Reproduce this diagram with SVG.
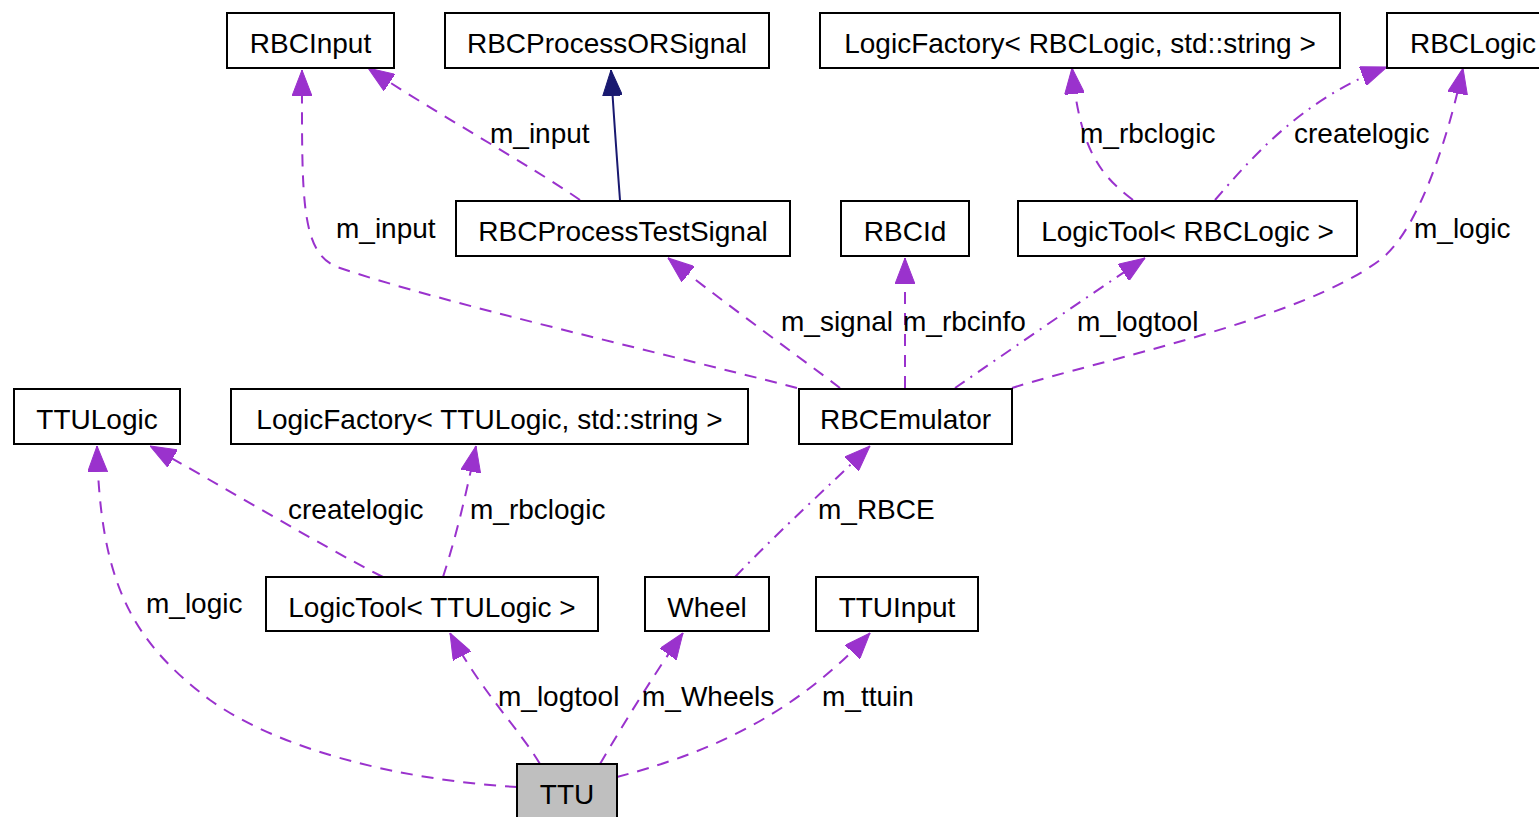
<svg xmlns="http://www.w3.org/2000/svg" width="1539" height="817" viewBox="0 0 1539 817">
<style>
.box{fill:#fff;stroke:#000;stroke-width:2}
.sel{fill:#bfbfbf;stroke:#000;stroke-width:2}
.t{font-family:"Liberation Sans",Arial,sans-serif;font-size:28px;fill:#000;text-anchor:middle}
.l{font-family:"Liberation Sans",Arial,sans-serif;font-size:28px;fill:#000}
.e{fill:none;stroke:#9a32cd;stroke-width:2;stroke-dasharray:12,9;marker-end:url(#ap)}
.ed{fill:none;stroke:#9a32cd;stroke-width:2;stroke-dasharray:12,7,2,7;marker-end:url(#ap)}
.inh{fill:none;stroke:#191970;stroke-width:2;marker-end:url(#an)}
</style>
<defs>
<marker id="ap" markerUnits="userSpaceOnUse" viewBox="0 0 26 20" refX="26" refY="10" markerWidth="26" markerHeight="20" orient="auto"><path d="M0,0 L26,10 L0,20 z" fill="#9a32cd" stroke="#9a32cd"/></marker>
<marker id="an" markerUnits="userSpaceOnUse" viewBox="0 0 26 20" refX="26" refY="10" markerWidth="26" markerHeight="20" orient="auto"><path d="M0,0 L26,10 L0,20 z" fill="#191970" stroke="#191970"/></marker>
</defs>
<rect width="1539" height="817" fill="#fff"/>
<g id="connectors">
<path class="inh" d="M620,200 C617,160 614,120 611,70"/>
<path class="e" d="M580,200 C530,165 430,110 368,68"/>
<path class="e" d="M797,388 C650,350 450,305 340,268 C300,255 302,200 302,70"/>
<path class="e" d="M840,388 C790,350 720,300 668,258"/>
<path class="e" d="M905,388 L905,258"/>
<path class="ed" d="M955,388 C1010,350 1090,295 1145,258"/>
<path class="e" d="M1012,388 C1100,360 1300,320 1380,260 C1420,230 1450,130 1463,68"/>
<path class="e" d="M1133,200 C1100,175 1080,150 1072,68"/>
<path class="ed" d="M1215,200 C1250,160 1300,100 1387,67"/>
<path class="e" d="M383,577 C320,545 220,485 150,446"/>
<path class="e" d="M443,577 C455,540 465,500 476,446"/>
<path class="ed" d="M735,577 C780,530 830,485 870,446"/>
<path class="e" d="M517,787 C400,780 280,750 210,700 C130,640 100,580 97,446"/>
<path class="e" d="M540,764 C520,730 480,690 450,633"/>
<path class="e" d="M600,764 C620,730 650,680 683,633"/>
<path class="e" d="M617,777 C700,755 790,720 870,633"/>
<text class="l" x="490" y="143">m_input</text>
<text class="l" x="336" y="238">m_input</text>
<text class="l" x="781" y="331">m_signal</text>
<text class="l" x="903" y="331">m_rbcinfo</text>
<text class="l" x="1077" y="331">m_logtool</text>
<text class="l" x="1414" y="238">m_logic</text>
<text class="l" x="1080" y="143">m_rbclogic</text>
<text class="l" x="1294" y="143">createlogic</text>
<text class="l" x="288" y="519">createlogic</text>
<text class="l" x="470" y="519">m_rbclogic</text>
<text class="l" x="818" y="519">m_RBCE</text>
<text class="l" x="146" y="613">m_logic</text>
<text class="l" x="498" y="706">m_logtool</text>
<text class="l" x="642" y="706">m_Wheels</text>
<text class="l" x="822" y="706">m_ttuin</text>
</g>
<g id="RBCInput"><rect class="box" x="227" y="13" width="167" height="55"/><text class="t" x="310.5" y="53">RBCInput</text></g>
<g id="RBCProcessORSignal"><rect class="box" x="445" y="13" width="324" height="55"/><text class="t" x="607" y="53">RBCProcessORSignal</text></g>
<g id="LogicFactoryRBC"><rect class="box" x="820" y="13" width="520" height="55"/><text class="t" x="1080" y="53">LogicFactory&lt; RBCLogic, std::string &gt;</text></g>
<g id="RBCLogic"><rect class="box" x="1387" y="13" width="173" height="55"/><text class="t" x="1473" y="53">RBCLogic</text></g>
<g id="RBCProcessTestSignal"><rect class="box" x="456" y="201" width="334" height="55"/><text class="t" x="623" y="241">RBCProcessTestSignal</text></g>
<g id="RBCId"><rect class="box" x="841" y="201" width="128" height="55"/><text class="t" x="905" y="241">RBCId</text></g>
<g id="LogicToolRBC"><rect class="box" x="1018" y="201" width="339" height="55"/><text class="t" x="1187.5" y="241">LogicTool&lt; RBCLogic &gt;</text></g>
<g id="TTULogic"><rect class="box" x="14" y="389" width="166" height="55"/><text class="t" x="97" y="429">TTULogic</text></g>
<g id="LogicFactoryTTU"><rect class="box" x="231" y="389" width="517" height="55"/><text class="t" x="489.5" y="429">LogicFactory&lt; TTULogic, std::string &gt;</text></g>
<g id="RBCEmulator"><rect class="box" x="799" y="389" width="213" height="55"/><text class="t" x="905.5" y="429">RBCEmulator</text></g>
<g id="LogicToolTTU"><rect class="box" x="266" y="577" width="332" height="54"/><text class="t" x="432" y="617">LogicTool&lt; TTULogic &gt;</text></g>
<g id="Wheel"><rect class="box" x="645" y="577" width="124" height="54"/><text class="t" x="707" y="617">Wheel</text></g>
<g id="TTUInput"><rect class="box" x="816" y="577" width="162" height="54"/><text class="t" x="897" y="617">TTUInput</text></g>
<g id="TTU"><rect class="sel" x="517" y="764" width="100" height="60"/><text class="t" x="567" y="804">TTU</text></g>
</svg>
